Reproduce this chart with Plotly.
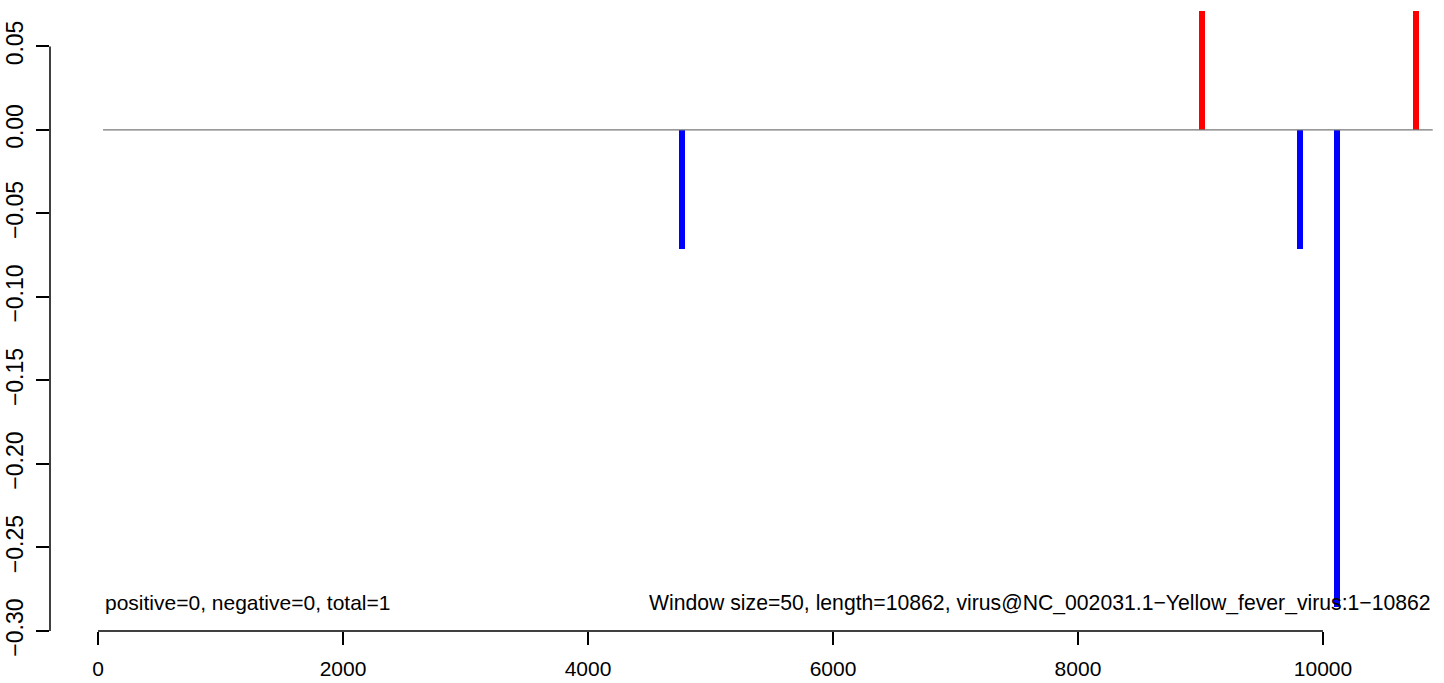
import plotly.graph_objects as go

# Data
pos_x = [9015, 10760]
pos_y = [0.0714, 0.0714]
neg_x = [4770, 9815, 10115]
neg_y = [-0.0714, -0.0714, -0.2857]
window = 50
zero_line_x = [41, 10896]

x_ticks = [0, 2000, 4000, 6000, 8000, 10000]
y_ticks = [0.05, 0.00, -0.05, -0.10, -0.15, -0.20, -0.25, -0.30]

left_text = "positive=0, negative=0, total=1"
right_text = "Window size=50, length=10862, virus@NC_002031.1\u2212Yellow_fever_virus:1\u221210862"
text_y = -0.283

FONT = "Liberation Sans, Arial, Helvetica, sans-serif"

def fmt(v):
    s = f"{abs(v):.2f}"
    return ("\u2212" + s) if v < 0 else s

fig = go.Figure()
fig.add_trace(go.Scatter(x=zero_line_x, y=[0, 0], mode="lines",
                         line=dict(color="#777777", width=1.2), hoverinfo="skip"))
fig.add_trace(go.Bar(x=pos_x, y=pos_y, width=window, marker=dict(color="#FF0000", line=dict(width=0))))
fig.add_trace(go.Bar(x=neg_x, y=neg_y, width=window, marker=dict(color="#0000FF", line=dict(width=0))))

fig.add_annotation(x=zero_line_x[0], y=text_y, text=left_text, showarrow=False,
                   xanchor="left", yanchor="middle", font=dict(size=21, color="black", family=FONT))
fig.add_annotation(x=zero_line_x[1], y=text_y, text=right_text, showarrow=False,
                   xanchor="right", yanchor="middle", font=dict(size=21.2, color="black", family=FONT))

# R-style axis lines spanning only the tick range
fig.add_shape(type="line", xref="x", yref="paper", x0=x_ticks[0], x1=x_ticks[-1], y0=0, y1=0,
              line=dict(color="black", width=1.5))
fig.add_shape(type="line", xref="paper", yref="y", x0=0, x1=0, y0=min(y_ticks), y1=max(y_ticks),
              line=dict(color="black", width=1.5))

fig.update_layout(
    width=1444, height=683, autosize=False,
    margin=dict(l=50, r=0, t=0, b=52),
    plot_bgcolor="white", paper_bgcolor="white",
    showlegend=False, bargap=0,
    font=dict(family=FONT, size=21, color="black"),
    xaxis=dict(range=[-392, 10988], tickvals=x_ticks, ticktext=[str(v) for v in x_ticks],
               ticks="outside", ticklen=13, tickwidth=1.5, tickcolor="black",
               ticklabelstandoff=6,
               showgrid=False, zeroline=False, showline=False,
               tickfont=dict(size=21, family=FONT, color="black")),
    yaxis=dict(range=[-0.3, 0.0778], tickvals=y_ticks, ticktext=[fmt(v) for v in y_ticks],
               ticks="outside", ticklen=13, tickwidth=1.5, tickcolor="black", tickangle=-90,
               ticklabelstandoff=4,
               showgrid=False, zeroline=False, showline=False,
               tickfont=dict(size=23, family=FONT, color="black")),
)

fig.write_html("out.html", config={"displayModeBar": False},
               post_script="document.body.style.margin='0px';")
